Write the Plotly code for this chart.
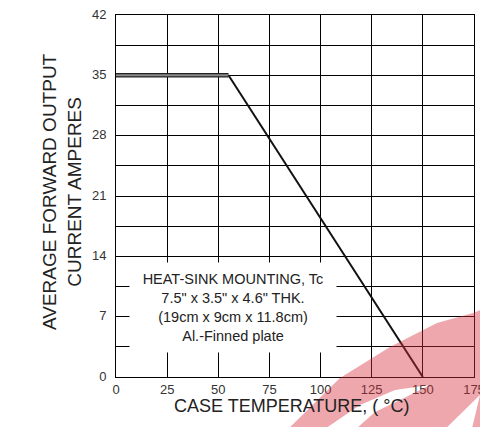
import plotly.graph_objects as go

# Data
flat_x = [0, 55]
flat_y = [35, 35]
slope_x = [55, 150]
slope_y = [35, 0]
x_ticks = [0, 25, 50, 75, 100, 125, 150, 175]
y_grid = [0, 3.5, 7, 10.5, 14, 17.5, 21, 24.5, 28, 31.5, 35, 38.5, 42]
y_labels = ["0", "", "7", "", "14", "", "21", "", "28", "", "35", "", "42"]
note_lines = ["HEAT-SINK MOUNTING, Tc", "7.5\" x 3.5\" x 4.6\" THK.",
              "(19cm x 9cm x 11.8cm)", "Al.-Finned plate"]

FONT = "Liberation Sans, Arial"
OFF = 8  # default page body margin
W, H = 488 - OFF, 435 - 2 * OFF
PLOT_L, PLOT_R, PLOT_T, PLOT_B = 116, 474, 15, 377  # window pixels
ML, MT = PLOT_L - OFF, PLOT_T - OFF
MR = W - (PLOT_R - OFF)
MB = H - (PLOT_B - OFF)
PW, PH = PLOT_R - PLOT_L, PLOT_B - PLOT_T


def to_paper(px, py):
    return (px - PLOT_L) / PW, (PLOT_B - py) / PH


# watermark outline (window pixels)
wm = [(280, 437), (340, 378), (390, 347), (437, 323), (473, 313), (488, 307),
      (488, 437), (470, 437), (480, 395), (437, 437), (347, 437), (375, 412),
      (400, 400), (430, 385), (395, 390), (360, 405), (313, 437)]

fig = go.Figure()
fig.add_trace(go.Scatter(x=flat_x, y=flat_y, mode="lines",
                         line=dict(color="#222222", width=4.5), showlegend=False))
fig.add_trace(go.Scatter(x=flat_x, y=flat_y, mode="lines",
                         line=dict(color="#8a8a8a", width=2), showlegend=False))
fig.add_trace(go.Scatter(x=slope_x, y=slope_y, mode="lines",
                         line=dict(color="#111111", width=2), showlegend=False))

fig.add_annotation(x=57.4, y=8.06, xref="x", yref="y", text="<br>".join(note_lines),
                   showarrow=False, align="center", bgcolor="white", borderpad=2,
                   font=dict(family=FONT, size=14.5, color="#222222"),
                   width=202, height=85)

# axis titles
fig.add_annotation(x=to_paper(292, 0)[0], y=to_paper(0, 418)[1], xref="paper", yref="paper",
                   text="CASE TEMPERATURE, ( °C)", showarrow=False,
                   font=dict(family=FONT, size=18, color="#222222"))
fig.add_annotation(x=to_paper(37, 0)[0], y=to_paper(0, 192)[1], xref="paper", yref="paper",
                   text="AVERAGE FORWARD OUTPUT<br>CURRENT AMPERES", showarrow=False,
                   textangle=-90, font=dict(family=FONT, size=19, color="#222222"))

path = "M " + " L ".join(f"{to_paper(a, b)[0]:.4f},{to_paper(a, b)[1]:.4f}" for a, b in wm) + " Z"
fig.add_shape(type="path", path=path, xref="paper", yref="paper", layer="above",
              fillcolor="rgba(215,45,60,0.42)", line=dict(width=0))

tick_font = dict(family=FONT, size=13, color="#333333")
fig.update_xaxes(range=[0, 175], tickvals=x_ticks, showgrid=True, gridcolor="black",
                 gridwidth=1, showline=True, linecolor="black", linewidth=1, mirror=True,
                 zeroline=False, ticks="", tickfont=tick_font, automargin=False,
                 ticklabeloverflow="allow")
fig.update_yaxes(range=[0, 42], tickvals=y_grid, ticktext=y_labels, showgrid=True, gridcolor="black",
                 gridwidth=1, showline=True, linecolor="black", linewidth=1, mirror=True,
                 zeroline=False, ticks="", tickfont=tick_font, automargin=False,
                 ticklabelstandoff=6, ticklabelshift=-1, ticklabeloverflow="allow")

fig.update_layout(width=W, height=H, margin=dict(l=ML, r=MR, t=MT, b=MB),
                  plot_bgcolor="white", paper_bgcolor="white")
fig.write_html("out.html")
